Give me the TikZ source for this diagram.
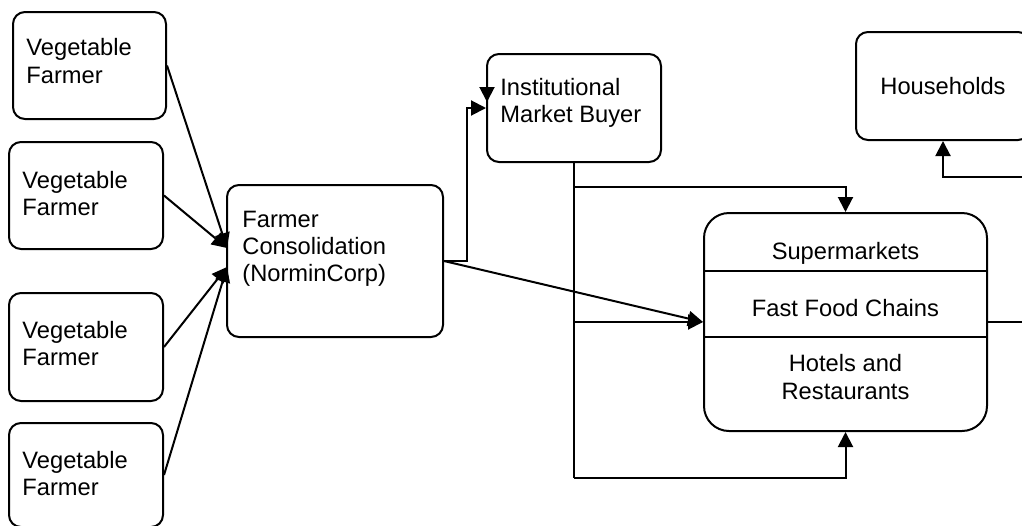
\documentclass[tikz,border=0pt]{standalone}
\usepackage{fontspec}
\setmainfont{Liberation Sans}
\usetikzlibrary{arrows.meta}
\begin{document}
\begin{tikzpicture}[x=0.5pt,y=-0.5pt,
  every node/.style={font=\fontsize{11.85}{13.6}\selectfont},
  box/.style={draw, line width=1pt, rounded corners=6pt, inner sep=0pt},
  bigbox/.style={draw, line width=1pt, rounded corners=12.5pt, inner sep=0pt},
  txt/.style={inner sep=0pt, align=left},
  ctxt/.style={inner sep=0pt, align=center},
  link/.style={line width=1pt},
  arr/.style={line width=1pt, -{Triangle[length=7.5pt,width=7.5pt]}}]
\clip (0,0) rectangle (1022,525);
\fill[white] (0,0) rectangle (1022,525);

% farmer boxes
\node[box, minimum width=76.5pt, minimum height=53.5pt] (f1) at (89.5,65.5) {};
\node[box, minimum width=77pt, minimum height=53.5pt] (f2) at (86,195.5) {};
\node[box, minimum width=77pt, minimum height=54pt] (f3) at (86,347) {};
\node[box, minimum width=77pt, minimum height=52pt] (f4) at (86,475) {};
\node[txt, anchor=west] (f1t) at (26,61) {Vegetable\\Farmer};
\node[txt, anchor=west] (f2t) at (22,193.5) {Vegetable\\Farmer};
\node[txt, anchor=west] (f3t) at (22,343.5) {Vegetable\\Farmer};
\node[txt, anchor=west] (f4t) at (22,473.5) {Vegetable\\Farmer};

% consolidator
\node[box, minimum width=108pt, minimum height=76pt] (cons) at (335,261) {};
\node[txt, anchor=west] (const) at (242,249) {Farmer\\Consolidation\\(NorminCorp)};

% institutional buyer
\node[box, minimum width=87pt, minimum height=54pt] (inst) at (574,108) {};
\node[txt, anchor=west] (instt) at (500,103) {Institutional\\Market Buyer};

% households
\node[box, minimum width=87pt, minimum height=54pt] (house) at (943,86) {Households};

% retail outlets
\node[bigbox, minimum width=141.5pt, minimum height=109pt] (retail) at (845.5,322) {};
\draw[link] (retail.west |- 0,271) -- (retail.east |- 0,271);
\draw[link] (retail.west |- 0,337) -- (retail.east |- 0,337);
\node[ctxt] (sup) at (845.5,253) {Supermarkets};
\node[ctxt] (ffc) at (845.5,308) {Fast Food Chains};
\node[ctxt] (hot) at (845.5,377) {Hotels and\\Restaurants};

% farmers to consolidator
\coordinate (ca) at (227,248);
\coordinate (cb) at (227,267);
\draw[arr] (f1.east) -- (ca);
\draw[arr] (f2.east) -- (ca);
\draw[arr] (f3.east) -- (cb);
\draw[arr] (f4.east) -- (cb);

% consolidator to buyers
\draw[arr] (cons.east) -- ++(23,0) |- (inst.west);
\coordinate (iw) at (487,72);
\draw[arr] (iw) -- ++(0,30);
\draw[arr] (cons.east) -- (retail.west);

% institutional buyer trunk
\coordinate (tr1) at (574,187);
\coordinate (tr2) at (574,322);
\coordinate (tr3) at (574,478);
\draw[link] (inst.south) -- (tr3);
\draw[arr] (tr1) -| (retail.north);
\draw[arr] (tr2) -- (retail.west);
\draw[arr] (tr3) -| (retail.south);

% retail to households
\coordinate (rr) at (1040,322);
\draw[arr] (retail.east) -- (rr) |- (943,177) -- (house.south);
\end{tikzpicture}
\end{document}
